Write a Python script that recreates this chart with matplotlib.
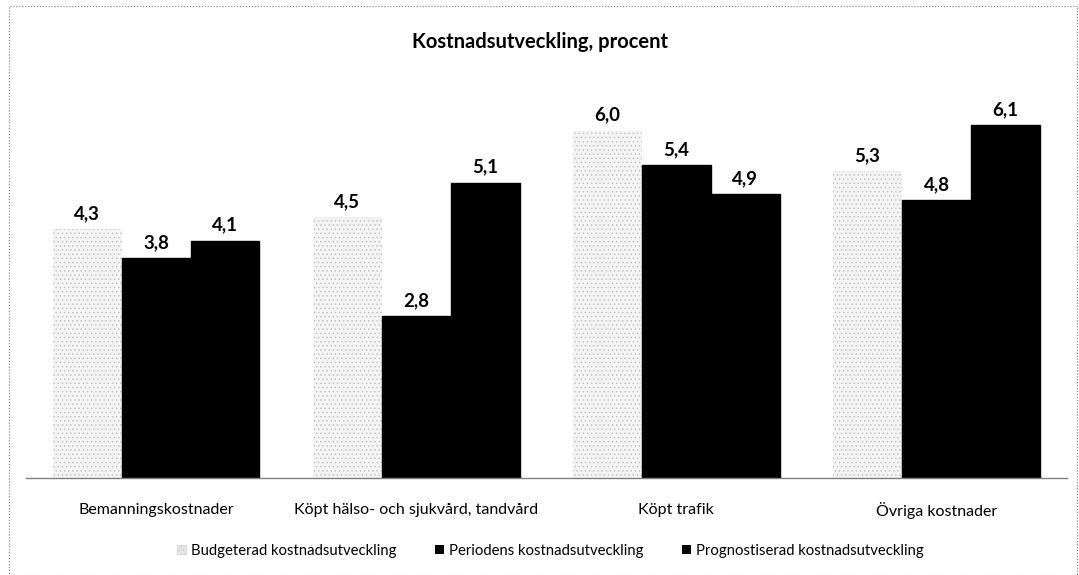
import matplotlib
matplotlib.use("Agg")
import matplotlib.pyplot as plt
import matplotlib.patches as mpatches
import numpy as np

plt.rcParams['font.family'] = ['Lato', 'DejaVu Sans']

categories = ["Bemanningskostnader", "Köpt hälso- och sjukvård, tandvård", "Köpt trafik", "Övriga kostnader"]
series_names = ["Budgeterad kostnadsutveckling", "Periodens kostnadsutveckling", "Prognostiserad kostnadsutveckling"]
budget = [4.3, 4.5, 6.0, 5.3]
perioden = [3.8, 2.8, 5.4, 4.8]
prognos = [4.1, 5.1, 4.9, 6.1]
title = "Kostnadsutveckling, procent"

plt.rcParams['hatch.color'] = '#c8c8c8'
plt.rcParams['hatch.linewidth'] = 0.5

fig = plt.figure(figsize=(10.79, 5.75), dpi=100)
ax = fig.add_axes([0.0241, 0.1687, 0.9644, 0.705])

x = np.arange(len(categories))
w = 0.265
series = [budget, perioden, prognos]
styles = [dict(facecolor='#f4f4f4', edgecolor='#bdbdbd', hatch='....', linewidth=0),
          dict(facecolor='black', edgecolor='black'),
          dict(facecolor='black', edgecolor='black')]
for i, (vals, st) in enumerate(zip(series, styles)):
    bars = ax.bar(x + (i - 1) * w, vals, w, label=series_names[i], **st)
    for b, v in zip(bars, vals):
        ax.annotate(f"{v:.1f}".replace('.', ','), (b.get_x() + b.get_width() / 2, v),
                    xytext=(0, 5), textcoords='offset points', ha='center', va='bottom',
                    fontsize=13.5, fontweight='bold')

ax.set_xlim(-0.5, 3.5)
ax.set_ylim(0, 7)
ax.set_yticks([])
ax.set_xticks(x)
ax.set_xticklabels([])
ax.tick_params(axis='x', length=0)
for xi, cat in zip(x, categories):
    ax.annotate(cat, (xi, 0), xytext=(0, -22), textcoords='offset points',
                ha='center', va='center_baseline', fontsize=11.5, annotation_clip=False)
for s in ['top', 'right', 'left']:
    ax.spines[s].set_visible(False)
ax.spines['bottom'].set_color('#808080')
ax.spines['bottom'].set_linewidth(1)

fig.text(0.5, 0.927, title, ha='center', va='center', fontsize=14.5, fontweight='bold')

handles = [mpatches.Patch(facecolor='#e6e6e6', edgecolor='#cfcfcf', hatch='....', linewidth=0.5),
           mpatches.Patch(facecolor='black'), mpatches.Patch(facecolor='black')]
fig.legend(handles, series_names, loc='center', bbox_to_anchor=(0.51, 0.042), ncol=3,
           frameon=False, fontsize=10.7, handlelength=0.6, handleheight=0.6,
           handletextpad=0.35, columnspacing=2.6)

border = mpatches.Rectangle((0.008, 0.0), 0.99, 0.99, transform=fig.transFigure,
                            fill=False, edgecolor='#777777', linestyle=':', linewidth=0.8)
fig.patches.append(border)

fig.savefig("out.png", dpi=100)
